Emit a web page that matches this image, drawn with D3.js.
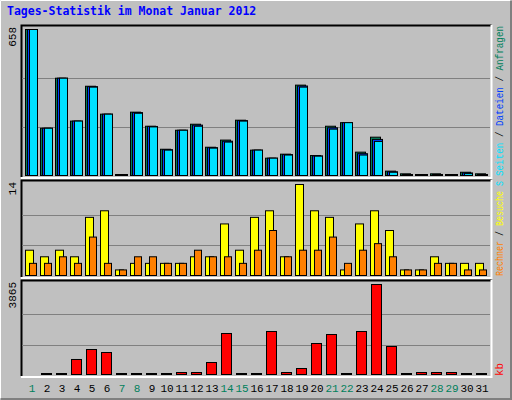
<!DOCTYPE html><html><head><meta charset="utf-8">
<script src="https://cdn.jsdelivr.net/npm/d3@7"></script>
<style>body{margin:0;background:#fff}</style></head><body><svg id="c" width="512" height="400"></svg>
<script>
const days = d3.range(1,32);
const weekend = [1,7,8,14,15,21,22,28,29];
const hits  = [658,216,440,248,404,279,2,288,225,122,207,234,131,163,252,118,82,100,409,94,225,241,109,176,24,12,2,12,2,19,12];
const files = [658,216,440,248,402,279,2,286,224,120,207,230,129,158,250,118,82,98,405,92,218,241,102,166,21,6,2,9,2,16,9];
const pages = [658,216,440,248,400,279,2,283,222,118,207,225,127,154,248,118,82,96,400,91,212,241,96,157,19,1,2,6,2,13,6];
const visits= [4,3,4,3,9,10,1,2,2,2,2,3,3,8,4,9,10,3,14,10,9,1,8,10,7,1,1,3,2,2,2];
const sites = [2,2,3,2,6,2,1,3,3,2,2,4,3,3,2,4,7,3,4,4,6,2,4,5,3,1,1,2,2,1,1];
const kb = [null,0,0,680,1104,977,0,0,0,0,127,127,552,1784,0,0,1869,127,297,1359,1741,0,1869,3865,1232,0,127,127,127,0,0];
const maxTop=658, maxMid=14, maxBot=3865;

const svg=d3.select("#c");
svg.append("rect").attr("x",0).attr("y",0).attr("width",512).attr("height",400).attr("fill","#c0c0c0");
svg.append("path").attr("d","M0.5,399.5V0.5H511.5").attr("stroke","#fff").attr("fill","none");
svg.append("path").attr("d","M0.5,399.5H511.5V0.5").attr("stroke","#808080").attr("stroke-width",3).attr("fill","none");
svg.append("text").attr("x",7).attr("y",15).text("Tages-Statistik im Monat Januar 2012")
  .attr("font-family","DejaVu Sans Mono").attr("font-weight","bold").attr("font-size",11.5).attr("fill","#0000ff");

const x=d3.scaleBand().domain(days).range([25,490]);
const mono="Liberation Mono";
function panel(y0,y1,max,label){
  svg.append("rect").attr("x",21).attr("y",y0).attr("width",470).attr("height",y1-y0).attr("fill","#c0c0c0");
  svg.append("path").attr("d",`M21.5,${y1}V${y0+0.5}H491.5`).attr("stroke","#000").attr("stroke-width",2).attr("fill","none");
  svg.append("path").attr("d",`M21,${y1+1}H491.5V${y0}`).attr("stroke","#fff").attr("stroke-width",2).attr("fill","none");
  const y=d3.scaleLinear().domain([0,max]).range([y1-1,y0+4]);
  [max/3,2*max/3].forEach(v=>svg.append("line").attr("x1",22).attr("x2",490).attr("y1",Math.round(y(v))+.5).attr("y2",Math.round(y(v))+.5).attr("stroke","#808080"));
  svg.append("text").attr("transform",`translate(16,${y0+2}) rotate(-90)`).attr("text-anchor","end")
    .attr("font-family",mono).attr("font-size",11).text(label);
  return y;
}
function bars(data,y,off,w,fill){
  svg.append("g").selectAll("rect").data(days.filter((d,i)=>data[i]!==null)).join("rect")
   .attr("x",d=>x(d)+off+.5).attr("width",w)
   .attr("y",d=>Math.min(y(data[d-1]),y.range()[0]-2)+.5)
   .attr("height",d=>Math.max(y.range()[0]-y(data[d-1]),2)-1)
   .attr("fill",fill).attr("stroke","#000");
}
const yT=panel(25,177,maxTop,String(maxTop));
bars(hits,yT,0,10,"#00805c");
bars(files,yT,2,10,"#0040ff");
bars(pages,yT,4,8,"#00e0ff");
const yM=panel(180,277,maxMid,String(maxMid));
bars(visits,yM,0,8,"#ffff00");
bars(sites,yM,4,7,"#ff8000");
const yB=panel(280,376,maxBot,String(maxBot));
bars(kb,yB,1,10,"#ff0000");

svg.append("g").selectAll("text").data(days).join("text")
 .attr("x",d=>x(d)+7).attr("y",392).attr("text-anchor","middle")
 .attr("font-family",mono).attr("font-size",11)
 .attr("fill",d=>weekend.includes(d)?"#00805c":"#000").text(d=>d);

const rl=svg.append("text").attr("transform","translate(503,176) rotate(-90)").attr("font-family",mono).attr("font-size",10)
  .attr("textLength",150).attr("lengthAdjust","spacingAndGlyphs");
[["Seiten","#00e0ff"],[" / ","#000"],["Dateien","#0040ff"],[" / ","#000"],["Anfragen","#00805c"]].forEach(([t,c])=>rl.append("tspan").attr("fill",c).text(t));
const rm=svg.append("text").attr("transform","translate(503,276) rotate(-90)").attr("font-family",mono).attr("font-size",10)
  .attr("textLength",95).attr("lengthAdjust","spacingAndGlyphs");
[["Rechner","#ff8000"],[" / ","#000"],["Besuche","#ffff00"],[" ","#000"],["S","#00e0ff"]].forEach(([t,c])=>rm.append("tspan").attr("fill",c).text(t));
svg.append("text").attr("transform","translate(503,376) rotate(-90)").attr("font-family",mono).attr("font-size",11).attr("fill","#ff0000").text("kb");
</script></body></html>
